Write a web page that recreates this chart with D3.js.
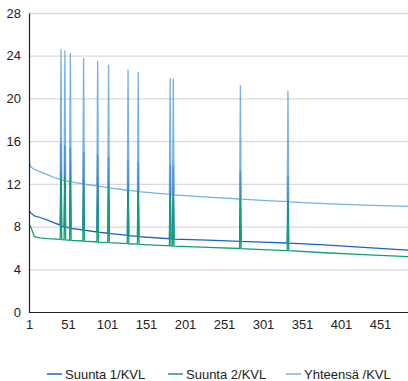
<!DOCTYPE html>
<html>
<head>
<meta charset="utf-8">
<script src="https://cdn.jsdelivr.net/npm/d3@7"></script>
<style>
  html, body { margin: 0; padding: 0; background: #fff; }
  svg { display: block; font-family: "Liberation Sans", Arial, sans-serif; }
</style>
</head>
<body>
<svg id="chart" width="408" height="381"></svg>
<script>
// ---- Data ----
const seriesNames = ["Suunta 1/KVL", "Suunta 2/KVL", "Yhteensä /KVL"];
const seriesColors = ["#1a62c4", "#12a077", "#79b2e2"];

// category numbers (x) of the sampled points
const days = [1, 3, 8, 15, 25, 35, 41, 42, 43, 46, 47, 48, 53, 54, 55, 70, 71, 72, 88, 89, 90,
  102, 103, 104, 127, 128, 129, 140, 141, 142, 181, 182, 183, 185, 186, 187, 230,
  271, 272, 273, 300, 332, 333, 334, 380, 430, 487];

const suunta1 = [9.55, 9.3, 9.0, 8.85, 8.6, 8.3, 8.15, 15.8, 8.05, 7.98, 15.6, 7.95, 7.85, 15.4, 7.82,
  7.68, 15.0, 7.66, 7.5, 14.7, 7.48, 7.38, 14.5, 7.36, 7.18, 14.2, 7.16, 7.08, 14.1, 7.06,
  6.86, 13.8, 6.85, 6.84, 13.8, 6.83, 6.74, 6.62, 13.2, 6.61, 6.55, 6.46, 12.8, 6.45, 6.28, 6.05, 5.8];

const suunta2 = [8.24, 8.0, 7.05, 6.95, 6.88, 6.83, 6.8, 13.0, 6.78, 6.76, 12.8, 6.75, 6.72, 12.6, 6.71,
  6.65, 12.3, 6.64, 6.56, 12.1, 6.55, 6.5, 11.9, 6.49, 6.4, 11.5, 6.39, 6.35, 11.4, 6.34,
  6.2, 11.0, 6.19, 6.18, 11.0, 6.17, 6.05, 5.95, 10.7, 5.94, 5.85, 5.75, 10.4, 5.74, 5.55, 5.38, 5.18];

const yhteensa = [14.2, 13.6, 13.35, 13.15, 12.85, 12.55, 12.4, 24.6, 12.35, 12.3, 24.5, 12.28, 12.2, 24.25, 12.18,
  12.0, 23.8, 11.98, 11.8, 23.5, 11.78, 11.65, 23.15, 11.63, 11.4, 22.7, 11.38, 11.3, 22.5, 11.28,
  11.02, 21.9, 11.0, 10.98, 21.9, 10.97, 10.75, 10.58, 21.25, 10.57, 10.45, 10.33, 20.7, 10.32, 10.15, 10.0, 9.9];

const yTicks = [0, 4, 8, 12, 16, 20, 24, 28];
const xTicks = [1, 51, 101, 151, 201, 251, 301, 351, 401, 451];

// ---- Layout ----
const svg = d3.select("#chart");
const mLeft = 29, mRight = 408, mTop = 13, mBottom = 312;

const x = d3.scaleLinear().domain([1, 451]).range([mLeft, 380]);
const y = d3.scaleLinear().domain([0, 28]).range([mBottom, mTop]);

svg.append("defs").append("clipPath").attr("id", "plotclip")
  .append("rect").attr("x", mLeft).attr("y", 0).attr("width", mRight - mLeft).attr("height", mBottom + 1);

// gridlines
const grid = svg.append("g").attr("transform", `translate(${mLeft},0)`)
  .call(d3.axisLeft(y).tickValues(yTicks.filter(d => d > 0)).tickSize(-(mRight - mLeft)).tickFormat(""));
grid.select(".domain").remove();
grid.selectAll("line").attr("stroke", "#d9d9d9").attr("stroke-width", 1.3);

// lines: direction 1, then total (slightly translucent), then direction 2
const allSeries = [suunta1, suunta2, yhteensa];
const strokeStyle = [
  { color: "#1a62c4", opacity: 1 },
  { color: "#12a077", opacity: 1 },
  { color: "#589fdb", opacity: 0.8 }
];
const drawOrder = [0, 2, 1];
const line = d3.line().x((d, i) => x(days[i])).y(d => y(d));
const plot = svg.append("g").attr("clip-path", "url(#plotclip)");
drawOrder.forEach(k => {
  plot.append("path")
    .datum(allSeries[k])
    .attr("fill", "none")
    .attr("stroke", strokeStyle[k].color)
    .attr("stroke-opacity", strokeStyle[k].opacity)
    .attr("stroke-width", 1.3)
    .attr("stroke-linejoin", "miter")
    .attr("d", line);
});

// y axis
const yAxis = svg.append("g").attr("transform", `translate(${mLeft},0)`)
  .call(d3.axisLeft(y).tickValues(yTicks).tickSize(0).tickPadding(8));
yAxis.select(".domain").attr("stroke", "#222").attr("stroke-width", 1.2);
yAxis.selectAll("text").attr("font-size", 13).attr("fill", "#222")
  .attr("font-family", "Liberation Sans, Arial, sans-serif");

// x axis
const xAxis = svg.append("g").attr("transform", `translate(0,${mBottom})`)
  .call(d3.axisBottom(x).tickValues(xTicks).tickSize(0).tickPadding(8));
xAxis.select(".domain").attr("d", `M${mLeft},0.5H${mRight}`).attr("stroke", "#222").attr("stroke-width", 1.2);
xAxis.selectAll("text").attr("font-size", 13).attr("fill", "#222")
  .attr("font-family", "Liberation Sans, Arial, sans-serif");

// legend
const legendX = [47, 168, 286];
const legend = svg.append("g");
seriesNames.forEach((name, i) => {
  const g = legend.append("g").attr("transform", `translate(${legendX[i]},374)`);
  g.append("line").attr("x1", 0).attr("x2", 15).attr("y1", 0).attr("y2", 0)
    .attr("stroke", seriesColors[i]).attr("stroke-width", 1.5);
  g.append("text").attr("x", 18).attr("y", 4.6).attr("font-size", 13).attr("fill", "#222")
    .text(name);
});
</script>
</body>
</html>
